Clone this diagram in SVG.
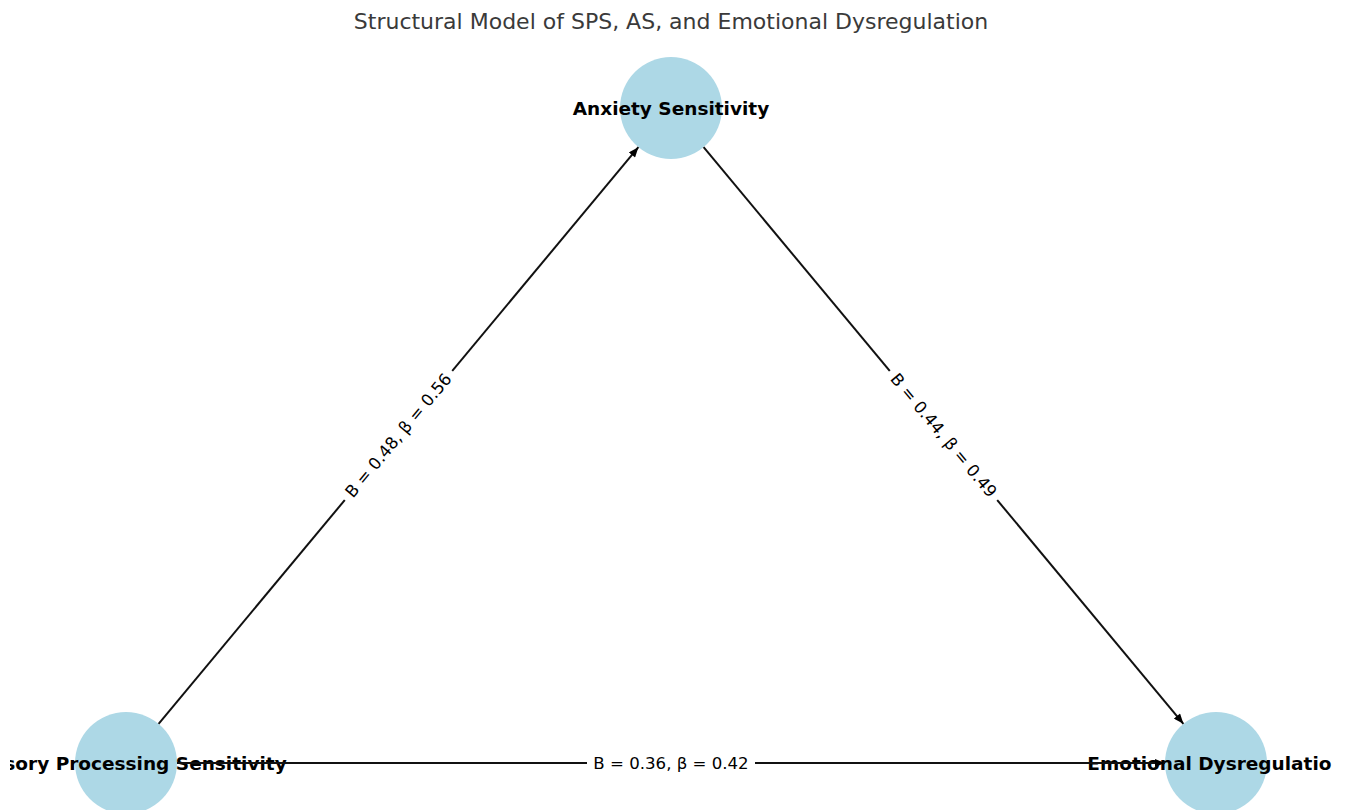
<svg xmlns="http://www.w3.org/2000/svg" width="1347" height="810" viewBox="0 0 1347 810">
<defs>
<marker id="ah" viewBox="0 0 10 8" refX="10" refY="4" markerWidth="11" markerHeight="8" markerUnits="userSpaceOnUse" orient="auto">
<path d="M0,0 L10,4 L0,8 Z" fill="#000"/>
</marker>
<clipPath id="axclip"><rect x="10" y="0" width="1322" height="810"/></clipPath>
<style>
.node{fill:#add8e6;}
.nlabel{font-family:"DejaVu Sans",sans-serif;font-weight:bold;font-size:18.5px;fill:#000;text-anchor:middle;dominant-baseline:central;}
.edge{stroke:#111;stroke-width:2;fill:none;marker-end:url(#ah);}
.elabel{font-family:"DejaVu Sans",sans-serif;font-size:16.6px;fill:#000;text-anchor:middle;dominant-baseline:central;}
.ebox{fill:#fff;}
.title{font-family:"DejaVu Sans",sans-serif;font-size:22px;fill:#3a3a3a;text-anchor:middle;}
</style>
</defs>
<rect width="1347" height="810" fill="#fff"/>
<text class="title" x="671" y="29">Structural Model of SPS, AS, and Emotional Dysregulation</text>
<g clip-path="url(#axclip)">
<g id="node-as"><circle class="node" cx="671" cy="108" r="51"/></g>
<g id="node-sps"><circle class="node" cx="126" cy="763" r="51"/></g>
<g id="node-ed"><circle class="node" cx="1216" cy="763" r="51"/></g>
<g id="labels">
<text class="nlabel" x="671" y="108">Anxiety Sensitivity</text>
<text class="nlabel" x="126" y="763">Sensory Processing Sensitivity</text>
<text class="nlabel" x="1216" y="763">Emotional Dysregulation</text>
</g>
<g id="connectors">
<line class="edge" x1="158.6" y1="723.8" x2="638.4" y2="147.2"/>
<line class="edge" x1="703.6" y1="147.2" x2="1183.4" y2="723.8"/>
<line class="edge" x1="177" y1="763" x2="1165" y2="763"/>
<g transform="translate(398.5,435.5) rotate(-50.2)">
<rect class="ebox" x="-84" y="-11" width="168" height="22"/>
<text class="elabel" x="0" y="0">B = 0.48, β = 0.56</text>
</g>
<g transform="translate(943.5,435.5) rotate(50.2)">
<rect class="ebox" x="-84" y="-11" width="168" height="22"/>
<text class="elabel" x="0" y="0">B = 0.44, β = 0.49</text>
</g>
<g transform="translate(671,763)">
<rect class="ebox" x="-84" y="-11" width="168" height="22"/>
<text class="elabel" x="0" y="0">B = 0.36, β = 0.42</text>
</g>
</g>
</g>
</svg>
